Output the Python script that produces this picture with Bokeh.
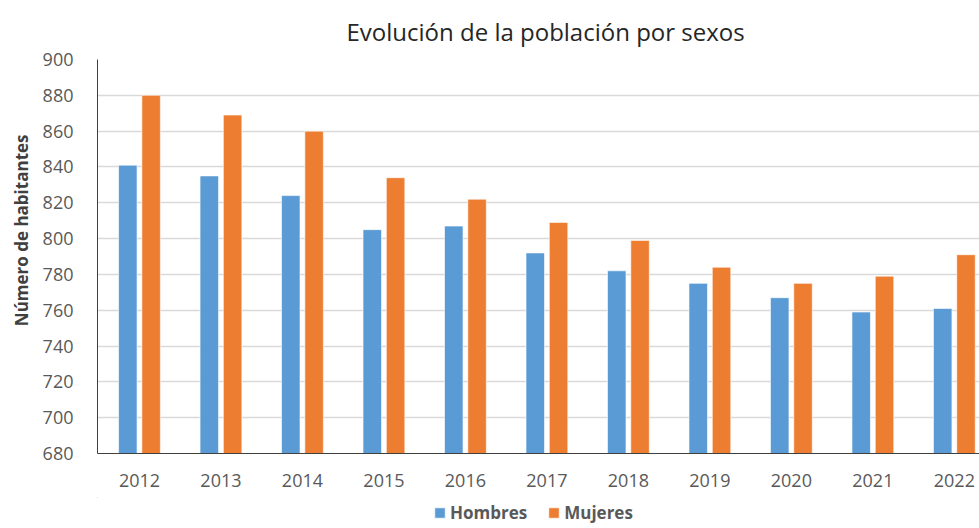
from bokeh.plotting import figure
from bokeh.layouts import column
from bokeh.models import ColumnDataSource, Range1d, FixedTicker, Legend, LegendItem, Title
from bokeh.embed import file_html
from bokeh.resources import INLINE
from bokeh.transform import dodge

years = ["2012", "2013", "2014", "2015", "2016", "2017", "2018", "2019", "2020", "2021", "2022"]
hombres = [841, 835, 824, 805, 807, 792, 782, 775, 767, 759, 761]
mujeres = [880, 869, 860, 834, 822, 809, 799, 784, 775, 779, 791]
y_ticks = [680, 700, 720, 740, 760, 780, 800, 820, 840, 860, 880, 900]

FONT = "Open Sans"
BLUE = "#5B9BD5"
ORANGE = "#ED7D31"

pos = [i + 0.5 for i in range(len(years))]
src = ColumnDataSource(dict(x=pos, h=hombres, m=mujeres))

p = figure(frame_width=883, frame_height=394, output_backend="svg", toolbar_location=None,
           x_range=Range1d(-0.015, 10.821), y_range=Range1d(680, 900),
           min_border_left=88, min_border_right=0, min_border_top=52, min_border_bottom=44)

bar_kw = dict(bottom=680, width=0.227, source=src, line_color="white", line_alpha=0.6, line_width=1)
rh = p.vbar(x=dodge("x", -0.143, range=p.x_range), top="h", fill_color=BLUE, **bar_kw)
rm = p.vbar(x=dodge("x", 0.143, range=p.x_range), top="m", fill_color=ORANGE, **bar_kw)

p.title.text = "Evolución de la población por sexos"
p.title.align = "left"
p.title.offset = 249
p.title.standoff = 24
p.title.text_font = FONT
p.title.text_font_size = "24px"
p.title.text_font_style = "normal"
p.title.text_color = "#262626"

p.xaxis.ticker = FixedTicker(ticks=pos)
p.xaxis.major_label_overrides = {x: y for x, y in zip(pos, years)}
p.yaxis.ticker = FixedTicker(ticks=y_ticks)

for ax in (p.xaxis[0], p.yaxis[0]):
    ax.major_tick_line_color = None
    ax.minor_tick_line_color = None
    ax.major_label_text_font = FONT
    ax.major_label_text_font_size = "18px"
    ax.major_label_text_color = "#595959"
    ax.axis_line_color = "#404040"
    ax.axis_line_width = 1

p.xaxis.major_label_standoff = 14
p.yaxis.major_label_standoff = 18

ytitle = Title(text="Número de habitantes", align="right", offset=75, standoff=14,
               text_font=FONT, text_font_size="17px", text_font_style="bold",
               text_color="#404040")
p.add_layout(ytitle, "left")

p.xgrid.grid_line_color = None
p.ygrid.grid_line_color = "#D9D9D9"
p.ygrid.grid_line_width = 1.5
p.outline_line_color = None

# legend strip below the chart (its glyphs lie outside its ranges, only the legend shows)
leg = figure(width=971, height=28, output_backend="svg", toolbar_location=None,
             x_range=Range1d(100, 101), y_range=Range1d(0, 1), min_border=0)
leg.axis.visible = False
leg.grid.visible = False
leg.outline_line_color = None
lh = leg.vbar(x="x", top="h", fill_color=BLUE, **bar_kw)
lm = leg.vbar(x="x", top="m", fill_color=ORANGE, **bar_kw)

legend = Legend(items=[LegendItem(label="Hombres", renderers=[lh]),
                       LegendItem(label="Mujeres", renderers=[lm])],
                orientation="horizontal", location=(336, 1),
                label_text_font=FONT, label_text_font_size="17px",
                label_text_font_style="bold", label_text_color="#595959",
                glyph_width=13, glyph_height=13, label_standoff=4, spacing=20,
                border_line_color=None, background_fill_alpha=0, padding=1, margin=0)
leg.add_layout(legend, "center")

layout = column(p, leg, spacing=0)
open("out.html", "w").write(file_html(layout, INLINE))
